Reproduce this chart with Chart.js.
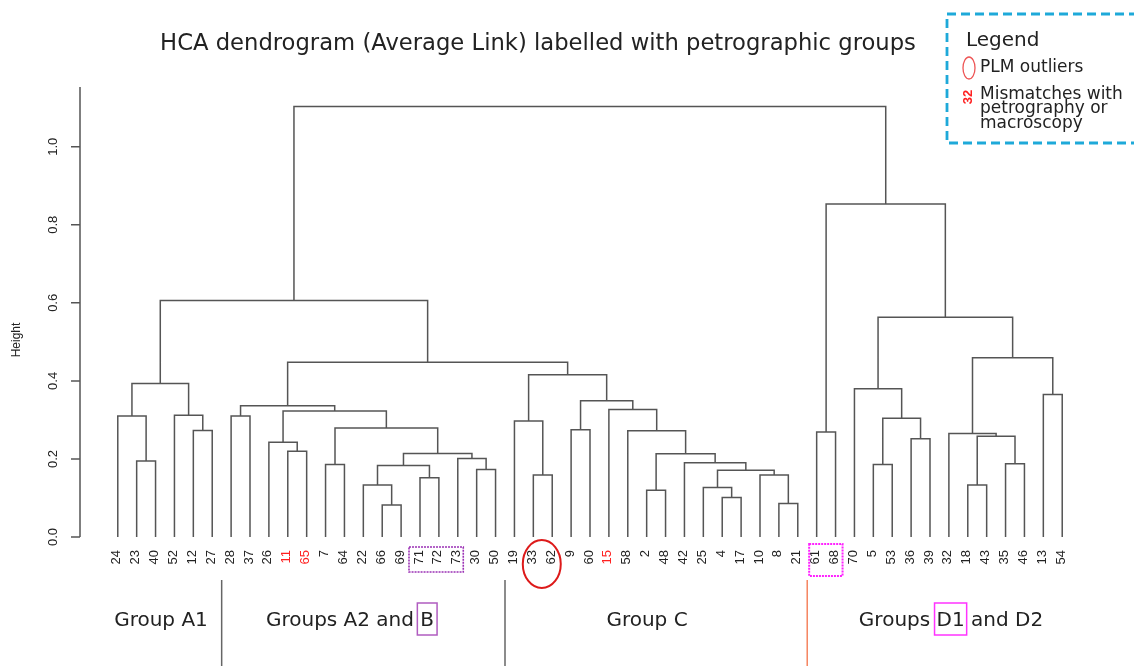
<!DOCTYPE html>
<html>
<head>
<meta charset="utf-8">
<script src="https://cdn.jsdelivr.net/npm/chart.js@4.4.0/dist/chart.umd.min.js"></script>
<style>
  html, body { margin: 0; padding: 0; background: #fff; }
</style>
</head>
<body>
<canvas id="myChart" width="1134" height="666"></canvas>
<script>
// Hojas del dendrograma, en el orden del dibujo
const leafLabels = [24, 23, 40, 52, 12, 27, 28, 37, 26, 11, 65, 7, 64, 22, 66, 69, 71, 72, 73, 30, 50,
  19, 33, 62, 9, 60, 15, 58, 2, 48, 42, 25, 4, 17, 10, 8, 21,
  61, 68, 70, 5, 53, 36, 39, 32, 18, 43, 35, 46, 13, 54];
const mismatchLabels = [11, 65, 15];

// Uniones (estilo hclust): negativo = hoja, positivo = union anterior (1-based)
const mergeLeft = [-66, -8, -4, -2, -25, -22, -18, -71, -33, -10,
  5, -30, 6, -7, -5, -35, -42, -23, -73, 4,
  13, -11, -26, -36, 7, -32, -61, -58, -12, -9,
  14, -19, 15, -24, -28, -52, 23, -15, 35, 30,
  -13, -70, 34, 32, 39, 26, 42, 43, 27, 48];
const mergeRight = [-69, -21, -17, -48, 3, 1, -43, -72, -62, 2,
  10, -50, 8, -64, -53, -46, 11, -40, 12, 17,
  19, -65, 22, -39, 16, 25, -68, 20, -27, -60,
  21, 9, 24, 18, -37, 29, 31, 28, 37, 38,
  -54, 33, 36, 40, 44, 41, 46, 45, 47, 49];
const mergeHeight = [0.082, 0.086, 0.101, 0.120, 0.127, 0.133, 0.133, 0.152, 0.159, 0.159,
  0.171, 0.173, 0.183, 0.186, 0.186, 0.188, 0.190, 0.195, 0.201, 0.213,
  0.214, 0.220, 0.243, 0.252, 0.258, 0.265, 0.269, 0.272, 0.273, 0.275,
  0.279, 0.297, 0.304, 0.310, 0.310, 0.312, 0.323, 0.327, 0.336, 0.349,
  0.365, 0.380, 0.393, 0.416, 0.448, 0.459, 0.563, 0.606, 0.853, 1.103];

const yTicks = [0, 0.2, 0.4, 0.6, 0.8, 1.0];
const groupNames = ['Group A1', 'Groups A2 and B', 'Group C', 'Groups D1 and D2'];

// Construir los segmentos del dendrograma
const leafIndex = {};
leafLabels.forEach((l, i) => { leafIndex[l] = i; });
const nodeX = [];
const nodeH = [];
const datasets = [];
mergeHeight.forEach((h, i) => {
  const a = mergeLeft[i], b = mergeRight[i];
  const xa = a < 0 ? leafIndex[-a] : nodeX[a - 1];
  const xb = b < 0 ? leafIndex[-b] : nodeX[b - 1];
  const ha = a < 0 ? 0 : nodeH[a - 1];
  const hb = b < 0 ? 0 : nodeH[b - 1];
  nodeX[i] = (xa + xb) / 2;
  nodeH[i] = h;
  datasets.push({
    data: [{x: xa, y: ha}, {x: xa, y: h}, {x: xb, y: h}, {x: xb, y: hb}],
    showLine: true,
    borderColor: '#555555',
    borderWidth: 1.5,
    pointRadius: 0,
    tension: 0,
    fill: false
  });
});

const SANS = '"DejaVu Sans", sans-serif';
const ARIAL = '"Liberation Sans", Arial, sans-serif';

const decor = {
  id: 'decor',
  afterDraw(chart) {
    const ctx = chart.ctx;
    const xs = chart.scales.x, ys = chart.scales.y;
    const area = chart.chartArea;
    const px = v => xs.getPixelForValue(v);
    const py = v => ys.getPixelForValue(v);
    ctx.save();

    // eje Y
    ctx.strokeStyle = '#555';
    ctx.lineWidth = 1.5;
    ctx.beginPath();
    ctx.moveTo(area.left, area.top);
    ctx.lineTo(area.left, area.bottom);
    yTicks.forEach(t => {
      ctx.moveTo(area.left, py(t));
      ctx.lineTo(area.left - 9, py(t));
    });
    ctx.stroke();

    ctx.fillStyle = '#222';
    ctx.font = '13px ' + ARIAL;
    ctx.textAlign = 'center';
    ctx.textBaseline = 'middle';
    yTicks.forEach(t => {
      ctx.save();
      ctx.translate(53, py(t));
      ctx.rotate(-Math.PI / 2);
      ctx.fillText(t.toFixed(1), 0, 0);
      ctx.restore();
    });
    ctx.save();
    ctx.font = '12px ' + ARIAL;
    ctx.translate(17, 340);
    ctx.rotate(-Math.PI / 2);
    ctx.fillText('Height', 0, 0);
    ctx.restore();

    // etiquetas de hojas
    ctx.font = '13px ' + ARIAL;
    ctx.textAlign = 'right';
    leafLabels.forEach((l, i) => {
      ctx.save();
      ctx.fillStyle = mismatchLabels.includes(l) ? '#ff2020' : '#222';
      ctx.translate(px(i) - 1, 550);
      ctx.rotate(-Math.PI / 2);
      ctx.fillText(String(l), 0, 0);
      ctx.restore();
    });

    // cajas punteadas y elipse
    ctx.lineWidth = 1.6;
    ctx.setLineDash([2, 1]);
    ctx.strokeStyle = '#9b30b5';
    ctx.strokeRect(px(16) - 11, 547, px(18) - px(16) + 16.5, 25);
    ctx.strokeStyle = '#ff22ff';
    ctx.lineWidth = 2;
    ctx.strokeRect(px(37) - 7.5, 544, px(38) - px(37) + 14.5, 32);
    ctx.setLineDash([]);
    ctx.strokeStyle = '#dd1a1a';
    ctx.lineWidth = 2;
    ctx.beginPath();
    ctx.ellipse((px(22) + px(23)) / 2 - 1, 564, 19, 24, 0, 0, Math.PI * 2);
    ctx.stroke();

    // separadores de grupos
    const seps = [[5.5, '#666'], [20.5, '#666'], [36.5, '#f5845f']];
    ctx.lineWidth = 1.5;
    seps.forEach(s => {
      ctx.strokeStyle = s[1];
      ctx.beginPath();
      ctx.moveTo(px(s[0]), 580);
      ctx.lineTo(px(s[0]), 666);
      ctx.stroke();
    });

    // nombres de grupos
    const centers = [161, 350, 647, 951];
    ctx.font = '20px ' + SANS;
    ctx.fillStyle = '#222';
    ctx.textAlign = 'left';
    ctx.textBaseline = 'alphabetic';
    const boxes = [];
    groupNames.forEach((g, i) => {
      const w = ctx.measureText(g).width;
      const x0 = centers[i] - w / 2;
      ctx.fillText(g, x0, 626);
      if (i === 1) {
        const s = ctx.measureText('Groups A2 and ').width;
        const bw = ctx.measureText('B').width;
        boxes.push([x0 + s - 3, bw + 6, '#b05cc0']);
      }
      if (i === 3) {
        const s = ctx.measureText('Groups ').width;
        const bw = ctx.measureText('D1').width;
        boxes.push([x0 + s - 2, bw + 4, '#ff33ff']);
      }
    });
    ctx.lineWidth = 1.5;
    boxes.forEach(b => {
      ctx.strokeStyle = b[2];
      ctx.strokeRect(b[0], 603, b[1], 32);
    });

    // titulo
    const title = 'HCA dendrogram (Average Link) labelled with petrographic groups';
    ctx.font = '20px ' + SANS;
    const tw = ctx.measureText(title).width;
    ctx.font = (20 * 756 / tw).toFixed(2) + 'px ' + SANS;
    ctx.textAlign = 'center';
    ctx.fillStyle = '#222';
    ctx.fillText(title, 538, 50);

    // leyenda
    ctx.strokeStyle = '#1ea9d9';
    ctx.lineWidth = 2.8;
    ctx.setLineDash([9, 5]);
    ctx.strokeRect(947, 14, 200, 129);
    ctx.setLineDash([]);
    ctx.textAlign = 'left';
    ctx.fillStyle = '#222';
    ctx.font = '20px ' + SANS;
    ctx.fillText('Legend', 966, 46);
    ctx.font = '17px ' + SANS;
    ctx.fillText('PLM outliers', 980, 72);
    ctx.fillText('Mismatches with', 980, 99);
    ctx.fillText('petrography or', 980, 113);
    ctx.fillText('macroscopy', 980, 128);
    ctx.strokeStyle = '#ee5555';
    ctx.lineWidth = 1.3;
    ctx.beginPath();
    ctx.ellipse(969, 68, 6, 11, 0, 0, Math.PI * 2);
    ctx.stroke();
    ctx.save();
    ctx.fillStyle = '#ff2020';
    ctx.font = 'bold 13px ' + ARIAL;
    ctx.textAlign = 'center';
    ctx.textBaseline = 'middle';
    ctx.translate(968, 97);
    ctx.rotate(-Math.PI / 2);
    ctx.fillText('32', 0, 0);
    ctx.restore();

    ctx.restore();
  }
};

const ctx = document.getElementById('myChart').getContext('2d');
const myChart = new Chart(ctx, {
  type: 'scatter',
  data: { datasets: datasets },
  options: {
    responsive: false,
    animation: false,
    devicePixelRatio: 1,
    layout: { padding: { left: 80, right: 34, top: 87, bottom: 129 } },
    scales: {
      x: { type: 'linear', min: -2, max: 52, display: false },
      y: { type: 'linear', min: 0, max: 1.153, display: false }
    },
    plugins: {
      legend: { display: false },
      tooltip: { enabled: false }
    }
  },
  plugins: [decor]
});
</script>
</body>
</html>
